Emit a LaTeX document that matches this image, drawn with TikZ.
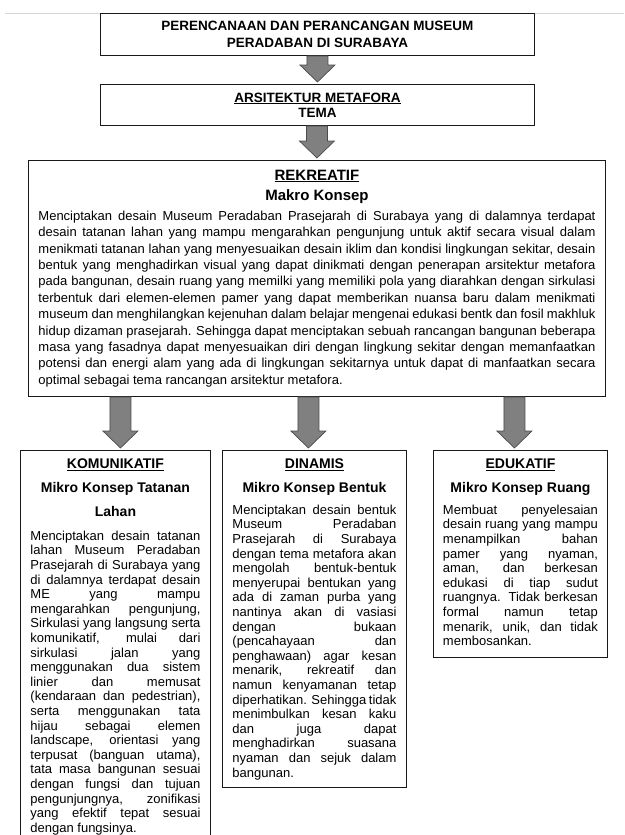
\documentclass[tikz,border=0pt]{standalone}
\usepackage{fontspec}
\setmainfont{Liberation Sans}
\usetikzlibrary{calc}
\definecolor{arrowfill}{RGB}{128,128,128}
\definecolor{arrowline}{RGB}{75,75,75}
\definecolor{rulegray}{RGB}{215,215,215}
% block arrow from the bottom of #2 down to the top of #3
\newcommand{\fatarrow}[3][0pt]{%
\draw[fatarrow] let \p1=([xshift=#1]#3.north |- #2.south), \p2=([xshift=#1,yshift=2pt]#3.north) in
  (\x1-10.5pt,\y1) -- (\x1-10.5pt,\y2+17pt) -- (\x1-17.5pt,\y2+17pt) -- (\x1,\y2)
  -- (\x1+17.5pt,\y2+17pt) -- (\x1+10.5pt,\y2+17pt) -- (\x1+10.5pt,\y1) -- cycle;}
\tikzset{
  box/.style={draw=black!90, line width=0.9pt, anchor=north west, inner sep=0pt},
  txt/.style={anchor=north, inner sep=0pt, align=justify,
    execute at begin node={\setlength{\parindent}{0pt}\tolerance=10000\hyphenpenalty=10000\hbadness=10000}},
  fatarrow/.style={fill=arrowfill, draw=arrowline, line width=0.7pt, line join=miter}
}

\begin{document}
\begin{tikzpicture}[x=1pt,y=-1pt]
\clip (0,0) rectangle (624,835);
\draw[rulegray, line width=1pt] (5,13) -- (624,13);
\node[box, minimum width=434pt, minimum height=42pt, align=center,
  font=\fontsize{13.5}{17}\selectfont\bfseries] (plan) at (100,13)
  {PERENCANAAN DAN PERANCANGAN MUSEUM\\PERADABAN DI SURABAYA};
\node[box, minimum width=434pt, minimum height=41pt, align=center,
  font=\fontsize{13.5}{15}\selectfont\bfseries] (tema) at (100,84)
  {\underline{ARSITEKTUR METAFORA}\\TEMA};
\node[box, minimum width=577pt, minimum height=236pt] (makro) at (28,160) {};
\node[box, minimum width=190pt, minimum height=400pt] (kom) at (20,450) {};
\node[box, minimum width=184pt, minimum height=337pt] (din) at (222,450) {};
\node[box, minimum width=174pt, minimum height=207pt] (edu) at (433,450) {};

\fatarrow{plan}{tema}
\fatarrow{tema}{makro}
\fatarrow[5pt]{makro}{kom}
\fatarrow[-6pt]{makro}{din}
\fatarrow[-6pt]{makro}{edu}

\node[txt, text width=557pt] (makrotxt) at ([yshift=-9pt]makro.north) {%
{\centering\fontsize{15}{20}\selectfont\bfseries\rule{0pt}{11pt}\underline{REKREATIF}\par Makro Konsep\par}
\vspace{3.6pt}
{\fontsize{13}{16.4}\selectfont
Menciptakan desain Museum Peradaban Prasejarah di Surabaya yang di dalamnya terdapat\linebreak
desain tatanan lahan yang mampu mengarahkan pengunjung untuk aktif secara visual dalam\linebreak
menikmati tatanan lahan yang menyesuaikan desain iklim dan kondisi lingkungan sekitar, desain\linebreak
bentuk yang menghadirkan visual yang dapat dinikmati dengan penerapan arsitektur metafora\linebreak
pada bangunan, desain ruang yang memilki yang memiliki pola yang diarahkan dengan sirkulasi\linebreak
terbentuk dari elemen-elemen pamer yang dapat memberikan nuansa baru dalam menikmati\linebreak
museum dan menghilangkan kejenuhan dalam belajar mengenai edukasi bentk dan fosil makhluk\linebreak
hidup dizaman prasejarah. Sehingga dapat menciptakan sebuah rancangan bangunan beberapa\linebreak
masa yang fasadnya dapat menyesuaikan diri dengan lingkung sekitar dengan memanfaatkan\linebreak
potensi dan energi alam yang ada di lingkungan sekitarnya untuk dapat di manfaatkan secara\linebreak
optimal sebagai tema rancangan arsitektur metafora.\par}};

\node[txt, text width=170pt] (komtxt) at ([yshift=-8pt]kom.north) {%
{\centering\fontsize{14}{24}\selectfont\bfseries\rule{0pt}{10pt}\underline{KOMUNIKATIF}\par
Mikro Konsep Tatanan\par Lahan\par}
\vspace{9.4pt}
{\fontsize{13}{14.6}\selectfont
Menciptakan desain tatanan\linebreak
lahan Museum Peradaban\linebreak
Prasejarah di Surabaya yang\linebreak
di dalamnya terdapat desain\linebreak
ME yang mampu\linebreak
mengarahkan pengunjung,\linebreak
Sirkulasi yang langsung serta\linebreak
komunikatif, mulai dari\linebreak
sirkulasi jalan yang\linebreak
menggunakan dua sistem\linebreak
linier dan memusat\linebreak
(kendaraan dan pedestrian),\linebreak
serta menggunakan tata\linebreak
hijau sebagai elemen\linebreak
landscape, orientasi yang\linebreak
terpusat (banguan utama),\linebreak
tata masa bangunan sesuai\linebreak
dengan fungsi dan tujuan\linebreak
pengunjungnya, zonifikasi\linebreak
yang efektif tepat sesuai\linebreak
dengan fungsinya.\par}};

\node[txt, text width=164pt] (dintxt) at ([yshift=-8pt]din.north) {%
{\centering\fontsize{14}{24}\selectfont\bfseries\rule{0pt}{10pt}\underline{DINAMIS}\par
Mikro Konsep Bentuk\par}
\vspace{7.4pt}
{\fontsize{13}{14.6}\selectfont
Menciptakan desain bentuk\linebreak
Museum Peradaban\linebreak
Prasejarah di Surabaya\linebreak
dengan tema metafora akan\linebreak
mengolah bentuk-bentuk\linebreak
menyerupai bentukan yang\linebreak
ada di zaman purba yang\linebreak
nantinya akan di vasiasi\linebreak
dengan bukaan\linebreak
(pencahayaan dan\linebreak
penghawaan) agar kesan\linebreak
menarik, rekreatif dan\linebreak
namun kenyamanan tetap\linebreak
diperhatikan. Sehingga tidak\linebreak
menimbulkan kesan kaku\linebreak
dan juga dapat\linebreak
menghadirkan suasana\linebreak
nyaman dan sejuk dalam\linebreak
bangunan.\par}};

\node[txt, text width=155pt] (edutxt) at ([yshift=-8pt]edu.north) {%
{\centering\fontsize{14}{24}\selectfont\bfseries\rule{0pt}{10pt}\underline{EDUKATIF}\par
Mikro Konsep Ruang\par}
\vspace{7.4pt}
{\fontsize{13}{14.6}\selectfont
Membuat penyelesaian\linebreak
desain ruang yang mampu\linebreak
menampilkan bahan\linebreak
pamer yang nyaman,\linebreak
aman, dan berkesan\linebreak
edukasi di tiap sudut\linebreak
ruangnya. Tidak berkesan\linebreak
formal namun tetap\linebreak
menarik, unik, dan tidak\linebreak
membosankan.\par}};
\end{tikzpicture}
\end{document}
